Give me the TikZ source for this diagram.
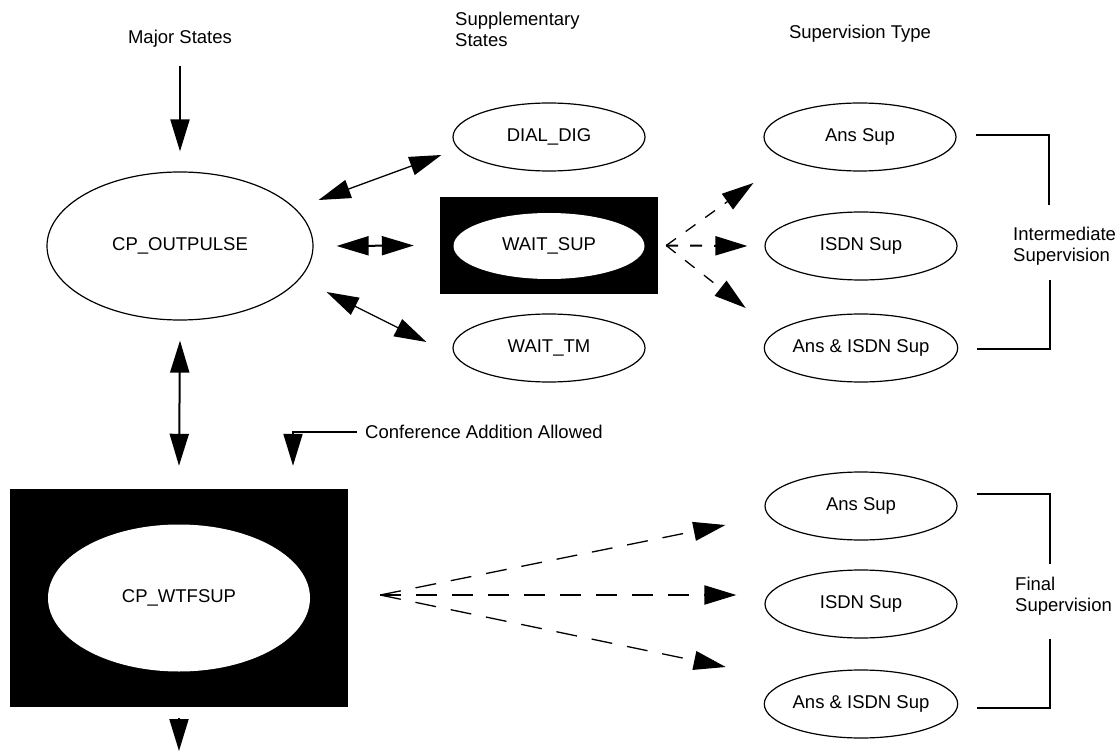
\documentclass[tikz,border=0pt]{standalone}
\usepackage{fontspec}
\setmainfont{Liberation Sans}
\usetikzlibrary{arrows.meta,shapes.geometric}
\begin{document}
\begin{tikzpicture}[x=1pt,y=-1pt,
  every node/.style={font=\fontsize{18.5}{21}\selectfont, inner sep=0pt},
  st/.style={draw, ellipse, line width=1.2pt, minimum width=192pt, minimum height=68pt},
  big/.style={draw, ellipse, line width=1.2pt, minimum width=266pt, minimum height=148pt},
  blk/.style={fill=black, rectangle, inner sep=0pt},
  hole/.style={fill=white, ellipse},
  arr/.style={-{Triangle[length=32pt,width=19pt]}},
  darr/.style={{Triangle[length=32pt,width=19pt]}-{Triangle[length=32pt,width=19pt]}},
  thk/.style={line width=2pt},
  thn/.style={line width=1.3pt},
  brk/.style={line width=2pt},
  dsA/.style={dash pattern=on 12pt off 12pt},
  dsB/.style={dash pattern=on 21pt off 15pt}]
\useasboundingbox (0,0) rectangle (1119,751);

% headings
\node (hMaj) at (180,39) {Major States};
\node[anchor=west, align=left] (hSup) at (455,29) {Supplementary\\States};
\node (hTyp) at (860,34) {Supervision Type};

% nodes
\node[big] (cpo) at (180,246) {CP\_OUTPULSE};
\node[st] (dial) at (549,137) {DIAL\_DIG};
\node[blk, minimum width=218pt, minimum height=97pt] (wsbox) at (549,245.5) {};
\node[hole, minimum width=191pt, minimum height=66pt] (ws) at (549,246) {WAIT\_SUP};
\node[st] (wtm) at (549,348) {WAIT\_TM};
\node[st] (ans1) at (860,137) {Ans Sup};
\node[st] (isdn1) at (861,246) {ISDN Sup};
\node[st] (ai1) at (861,348) {Ans \& ISDN Sup};
\node[anchor=west, align=left] (inter) at (1013,246) {Intermediate\\Supervision};
\node[blk, minimum width=338pt, minimum height=218pt] (wtfbox) at (179,598) {};
\node[hole, minimum width=262pt, minimum height=147pt] (wtf) at (179,598) {CP\_WTFSUP};
\node[anchor=west] (conf) at (365,432) {Conference Addition Allowed};
\node[st] (ans2) at (861,506) {Ans Sup};
\node[st] (isdn2) at (861,604) {ISDN Sup};
\node[st] (ai2) at (861,704) {Ans \& ISDN Sup};
\node[anchor=west, align=left] (fin) at (1015,596) {Final\\Supervision};

\coordinate (in) at (180,66);
\coordinate (out) at (179,751);

% solid connectors
\draw[thk,arr] (in) -- ([shift={(0,-20)}]cpo.north);
\draw[thn,darr] ([shift={(5,-46)}]cpo.east) -- ([shift={(-11,18)}]dial.west);
\draw[thk,darr] ([shift={(23,0)}]cpo.east) -- ([shift={(-26,0)}]wsbox.west);
\draw[thn,darr] ([shift={(13,46)}]cpo.east) -- ([shift={(-26,-6)}]wtm.west);
\draw[thk,darr] ([shift={(0,20)}]cpo.south) -- ([shift={(0,-23)}]wtfbox.north);
\draw[thk,arr] ([shift={(-8,0)}]conf.west) -| ([shift={(114,-23)}]wtfbox.north);
\draw[thk,arr] ([shift={(0,11)}]wtfbox.south) -- (out);

% dashed connectors from WAIT_SUP
\draw[thn,dsA,arr] ([shift={(8,0)}]wsbox.east) -- ([shift={(-10,46)}]ans1.west);
\draw[thk,dsA,arr] ([shift={(8,0)}]wsbox.east) -- ([shift={(-17,0)}]isdn1.west);
\draw[thn,dsA,arr] ([shift={(8,0)}]wsbox.east) -- ([shift={(-18,-40)}]ai1.west);

% dashed connectors from CP_WTFSUP
\draw[thn,dsB,arr] ([shift={(32,-3)}]wtfbox.east) -- ([shift={(-39,19)}]ans2.west);
\draw[thk,dsB,arr] ([shift={(32,-3)}]wtfbox.east) -- ([shift={(-28,-9)}]isdn2.west);
\draw[thn,dsB,arr] ([shift={(32,-3)}]wtfbox.east) -- ([shift={(-38,-37)}]ai2.west);

% brackets
\draw[brk] ([shift={(19,-2)}]ans1.east) -| ([shift={(92,68)}]ans1.east);
\draw[brk] ([shift={(19,1)}]ai1.east) -| ([shift={(92,-68)}]ai1.east);
\draw[brk] ([shift={(19,-12)}]ans2.east) -| ([shift={(92,58)}]ans2.east);
\draw[brk] ([shift={(19,4)}]ai2.east) -| ([shift={(92,-65)}]ai2.east);
\end{tikzpicture}
\end{document}
